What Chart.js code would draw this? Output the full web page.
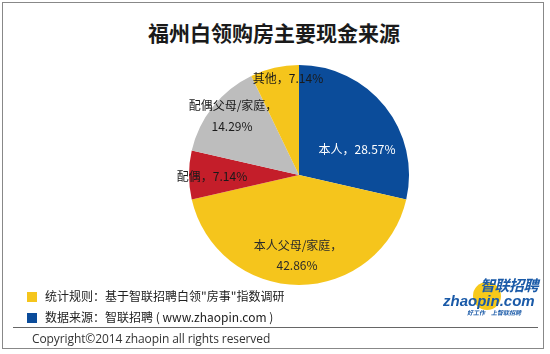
<!DOCTYPE html>
<html>
<head>
<meta charset="utf-8">
<script src="https://cdn.jsdelivr.net/npm/chart.js@4"></script>
<style>
  html, body { margin:0; padding:0; background:#fff; }
  body { width:550px; height:354px; position:relative; overflow:hidden;
         font-family:"Noto Sans CJK SC","Noto Sans",sans-serif; color:#222; }
  #frame { position:absolute; left:2px; top:2px; width:542px; height:347px;
           border:1px solid #888; box-sizing:border-box; }
  #title { position:absolute; left:0; width:548px; top:17px; text-align:center;
           font-size:21px; font-weight:bold; color:#1a1a1a; }
  #wrap { position:absolute; left:99px; top:55px; width:400px; height:240px; }
  .leg { position:absolute; left:27px; font-size:12px; color:#222; white-space:nowrap; }
  .leg span.sq { display:inline-block; width:10px; height:10px; vertical-align:-1px; margin-right:8px; }
  #sep { position:absolute; left:13px; top:327px; width:525px; height:1px; background:#666; }
  #copy { position:absolute; left:32px; top:330px; font-size:12px; color:#333; font-family:"Open Sans","Noto Sans",sans-serif; letter-spacing:-0.1px; }
  #logo { position:absolute; left:440px; top:275px; width:102px; height:48px; }
  #logo div { position:absolute; line-height:1; white-space:nowrap; }
  #logo .dot { left:33px; top:7px; width:28px; height:28px; border-radius:50%; background:#f7c91a; }
  #logo .cn { left:40px; top:2px; font-size:15px; font-weight:bold; font-style:italic; color:#1a5aa8; letter-spacing:-0.5px; }
  #logo .en { left:3px; top:18px; font-size:15px; font-weight:bold; font-style:italic; color:#1a5aa8; font-family:"Liberation Sans",sans-serif; }
  #logo .sm { left:27px; top:35px; font-size:6px; font-style:italic; font-weight:bold; color:#1a5aa8; }
</style>
</head>
<body>
<div id="frame"></div>
<div id="title">福州白领购房主要现金来源</div>
<div id="wrap"><canvas id="c" width="400" height="240"></canvas></div>
<div class="leg" style="top:287px;"><span class="sq" style="background:#f5c51c"></span>统计规则：基于智联招聘白领"房事"指数调研</div>
<div class="leg" style="top:308px;"><span class="sq" style="background:#0b4c9a"></span>数据来源：智联招聘 ( www.zhaopin.com )</div>
<div id="sep"></div>
<div id="copy">Copyright©2014 zhaopin all rights reserved</div>
<div id="logo"><div class="dot"></div><div class="cn">智联招聘</div><div class="en">zhaopin.com</div><div class="sm">好工作　上智联招聘</div></div>
<script>
const categories = ["本人", "本人父母/家庭", "配偶", "配偶父母/家庭", "其他"];
const values = [28.57, 42.86, 7.14, 14.29, 7.14];
const sliceColors = ["#0b4c9a", "#f5c51c", "#c41e2a", "#bdbdbd", "#f5c51c"];
const labelColors = ["#ffffff", "#2a2a2a", "#1a1a1a", "#1a1a1a", "#1a1a1a"];
// label text placement: offsets from the pie centre given by the chart
const labelOffsets = [
  [[58, -26]],
  [[-1, 70], [-2, 90]],
  [[-87, 1]],
  [[-66, -70], [-67, -49]],
  [[-11, -97]]
];
const labelLines = (i) => {
  const v = values[i].toFixed(2) + "%";
  if (labelOffsets[i].length === 2) return [categories[i] + "，", v];
  return [categories[i] + "，" + v];
};

const labelPlugin = {
  id: "sliceLabels",
  afterDatasetsDraw(chart) {
    const ctx = chart.ctx;
    const meta = chart.getDatasetMeta(0);
    ctx.save();
    ctx.font = '12px "Noto Sans CJK SC", sans-serif';
    ctx.textAlign = "center";
    ctx.textBaseline = "middle";
    meta.data.forEach((arc, i) => {
      const lines = labelLines(i);
      ctx.fillStyle = labelColors[i];
      lines.forEach((t, k) => {
        const o = labelOffsets[i][k];
        ctx.fillText(t, arc.x + o[0], arc.y + o[1]);
      });
    });
    ctx.restore();
  }
};

new Chart(document.getElementById("c"), {
  type: "pie",
  data: {
    labels: categories,
    datasets: [{ data: values, backgroundColor: sliceColors, borderWidth: 0 }]
  },
  options: {
    responsive: false,
    animation: false,
    layout: { padding: { top: 10, bottom: 10 } },
    plugins: { legend: { display: false }, tooltip: { enabled: false } }
  },
  plugins: [labelPlugin]
});
</script>
</body>
</html>
